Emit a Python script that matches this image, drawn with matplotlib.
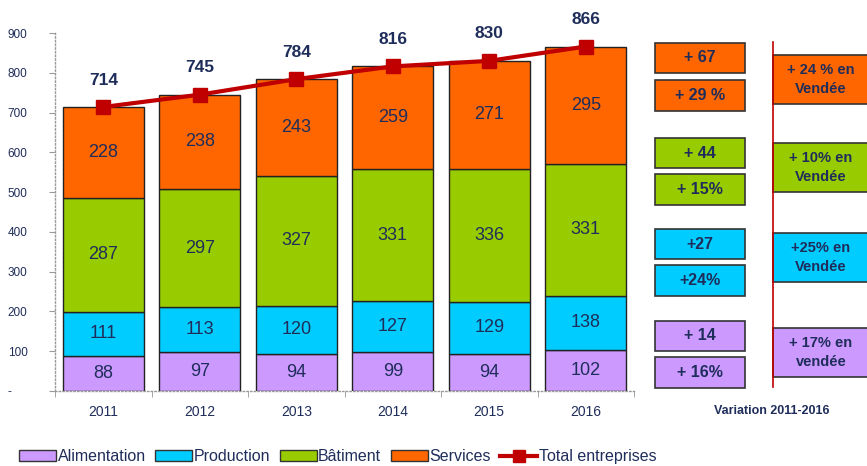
import matplotlib
matplotlib.use("Agg")
import matplotlib.pyplot as plt
from matplotlib.patches import Rectangle, Patch
from matplotlib.lines import Line2D
import numpy as np

plt.rcParams['font.family'] = ['Liberation Sans', 'DejaVu Sans']

years = ['2011', '2012', '2013', '2014', '2015', '2016']
alimentation = [88, 97, 94, 99, 94, 102]
production = [111, 113, 120, 127, 129, 138]
batiment = [287, 297, 327, 331, 336, 331]
services = [228, 238, 243, 259, 271, 295]
totals = [714, 745, 784, 816, 830, 866]
series_names = ['Alimentation', 'Production', 'Bâtiment', 'Services']
total_name = 'Total entreprises'
yticks = [0, 100, 200, 300, 400, 500, 600, 700, 800, 900]
ytick_labels = ['-', '100', '200', '300', '400', '500', '600', '700', '800', '900']

var_abs = ['+ 67', '+ 44', '+27', '+ 14']
var_pct = ['+ 29 %', '+ 15%', '+24%', '+ 16%']
vendee = ['+ 24 % en\nVendée', '+ 10% en\nVendée', '+25% en\nVendée', '+ 17% en\nvendée']
variation_title = 'Variation 2011-2016'

colors = ['#CC99FF', '#00CCFF', '#99CC00', '#FF6600']
line_color = '#C00000'
navy = '#1F2D5A'

fig = plt.figure(figsize=(8.67, 4.66), dpi=100)
ax = fig.add_axes([55/867, 75/466, 579/867, 358/466])

x = np.arange(len(years))
bottom = np.zeros(len(years))
for vals, c in zip([alimentation, production, batiment, services], colors):
    ax.bar(x, vals, bottom=bottom, width=0.84, color=c, edgecolor='#222222', linewidth=1.0, zorder=2)
    for xi, b, v in zip(x, bottom, vals):
        ax.text(xi, b + v / 2, str(v), ha='center', va='center', fontsize=13, color=navy, zorder=4)
    bottom += np.array(vals)

ax.plot(x, totals, color=line_color, linewidth=3, marker='s', markersize=10, zorder=5)
for xi, t in zip(x, totals):
    ax.annotate(str(t), (xi, t), xytext=(0, 14), textcoords='offset points',
                ha='center', va='bottom', fontsize=12.5, fontweight='bold', color=navy)

ax.set_xlim(-0.5, len(years) - 0.5)
ax.set_ylim(0, 900)
ax.set_yticks(yticks)
ax.set_yticklabels(ytick_labels, fontsize=8.5, color=navy)
for lbl in ax.get_yticklabels():
    lbl.set_horizontalalignment('left')
ax.tick_params(axis='y', length=4, color='#999999', pad=30)
ax.set_xticks(x)
ax.set_xticklabels(years, fontsize=10, color=navy)
ax.set_xticks(np.arange(-0.5, len(years)), minor=True)
ax.tick_params(axis='x', which='major', length=0, pad=10)
ax.tick_params(axis='x', which='minor', length=4, color='#999999')
for s in ['top', 'right']:
    ax.spines[s].set_visible(False)
for s in ['left', 'bottom']:
    ax.spines[s].set_color('#999999')
    ax.spines[s].set_linestyle(':')
    ax.spines[s].set_linewidth(1)

# Legend
handles = [Patch(facecolor=c, edgecolor='#333333', linewidth=1) for c in colors]
handles.append(Line2D([0], [0], color=line_color, linewidth=3, marker='s', markersize=8))
fig.legend(handles, series_names + [total_name], loc='center left', bbox_to_anchor=(0.015, 0.02),
           ncol=5, frameon=False, fontsize=11.5, handlelength=2.3, handleheight=0.6,
           handletextpad=0.1, columnspacing=0.6, labelcolor=navy, borderaxespad=0)

# Variation boxes
def fbox(x0, y0, w, h, fc, text, fs=10.5, ls=1.15):
    W, H = 867, 466
    fig.add_artist(Rectangle((x0 / W, 1 - (y0 + h) / H), w / W, h / H, transform=fig.transFigure,
                             facecolor=fc, edgecolor='#333333', linewidth=1.2))
    fig.text((x0 + w / 2) / W, 1 - (y0 + h / 2) / H, text, ha='center', va='center',
             fontsize=fs, fontweight='bold', color=navy, linespacing=ls)

abs_tops = [43, 138, 229, 321]
pct_tops = [80, 174, 265, 357]
for i, c in enumerate(reversed(colors)):
    fbox(655, abs_tops[i], 90, 30, c, var_abs[i], fs=11.5)
    fbox(655, pct_tops[i], 90, 31, c, var_pct[i], fs=11.5)

vend_tops = [55, 143, 233, 328]
for i, c in enumerate(reversed(colors)):
    fbox(773, vend_tops[i], 96, 49, c, vendee[i], fs=10.5, ls=1.45)

fig.add_artist(Line2D([773 / 867, 773 / 867], [1 - 387 / 466, 1 - 42 / 466], transform=fig.transFigure,
                      color=line_color, linewidth=1.2))
fig.text(772 / 867, 1 - 411 / 466, variation_title, ha='center', va='center', fontsize=9,
         fontweight='bold', color=navy)

fig.savefig('out.png', dpi=100)
